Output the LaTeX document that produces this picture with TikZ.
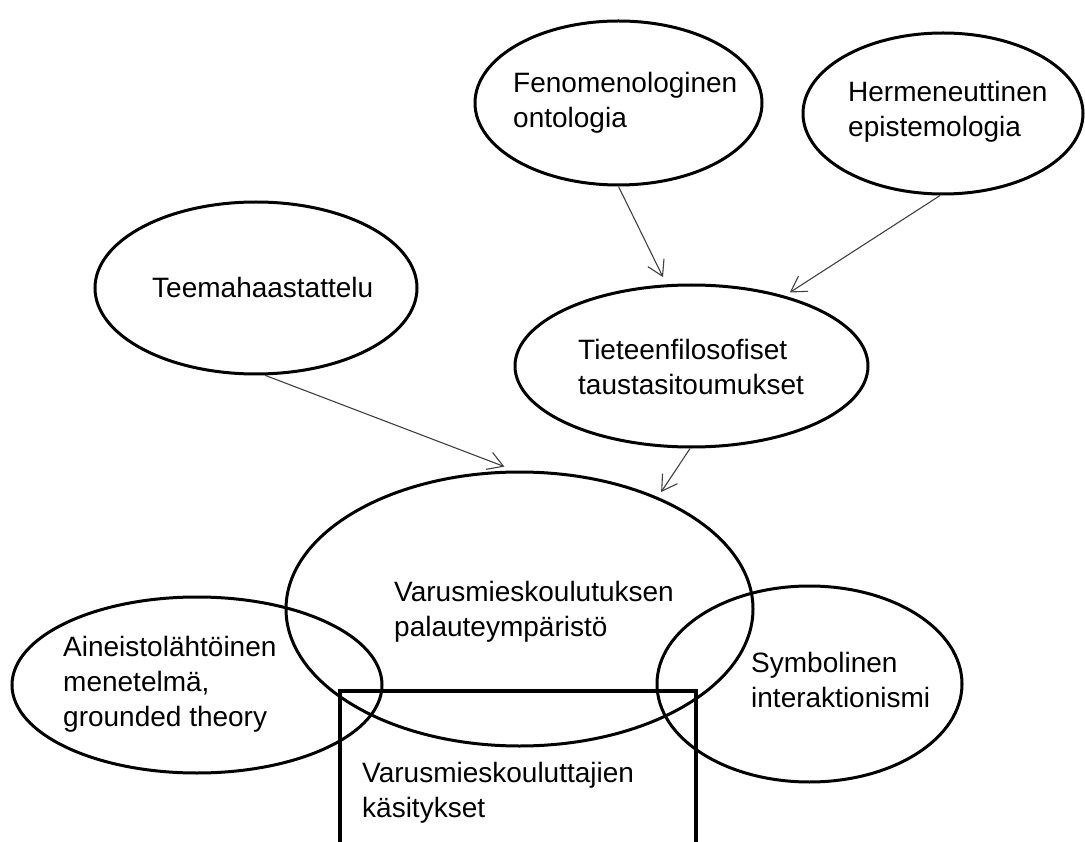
\documentclass[tikz,border=0pt]{standalone}
\usepackage{fontspec}
\setmainfont{Liberation Sans}
\usetikzlibrary{shapes.geometric,arrows.meta}
\begin{document}
\begin{tikzpicture}[x=1pt,y=-1pt,
  oval/.style={ellipse, draw=black, line width=3pt, inner sep=0pt},
  box/.style={rectangle, draw=black, line width=3.5pt, inner sep=0pt},
  label/.style={anchor=north west, align=left, inner sep=0pt,
    font=\fontsize{28}{35}\selectfont},
  link/.style={draw=black!75, line width=1.1pt,
    -{Straight Barb[length=15pt,width=18pt,line width=1.1pt]}}]
\path[use as bounding box, clip] (0,0) rectangle (1085,842);
% shapes
\node[oval, minimum width=287, minimum height=164] (fen) at (618.5,103) {};
\node[oval, minimum width=280, minimum height=161] (her) at (943,113.5) {};
\node[oval, minimum width=322, minimum height=172] (tee) at (256,288) {};
\node[oval, minimum width=353, minimum height=162] (tie) at (691.5,366) {};
\node[oval, minimum width=467, minimum height=274] (var) at (519.5,609) {};
\node[oval, minimum width=370, minimum height=176] (ain) at (197,685) {};
\node[oval, minimum width=305, minimum height=196] (sym) at (809.5,684) {};
\node[box, minimum width=356, minimum height=220] (kou) at (518,801) {};
% texts
\node[label] (tfen) at (513,72) {Fenomenologinen\\ontologia};
\node[label] (ther) at (848,81) {Hermeneuttinen\\epistemologia};
\node[label] (ttee) at (152,277) {Teemahaastattelu};
\node[label] (ttie) at (578,339) {Tieteenfilosofiset\\taustasitoumukset};
\node[label] (tvar) at (394,581) {Varusmieskoulutuksen\\palauteympäristö};
\node[label] (tain) at (63,636) {Aineistolähtöinen\\menetelmä,\\grounded theory};
\node[label] (tsym) at (751,652) {Symbolinen\\interaktionismi};
\node[label] (tkou) at (362,762) {Varusmieskouluttajien\\käsitykset};
% connectors
\draw[link, shorten >=8pt] (fen.south) -- (tie.107);
\draw[link, shorten >=6pt] (her.-92) -- (tie.37);
\draw[link, shorten >=11pt] (tee.-84) -- (var.92.5);
\draw[link, shorten >=6pt] (tie.-91) -- (var.39.6);
\end{tikzpicture}
\end{document}
